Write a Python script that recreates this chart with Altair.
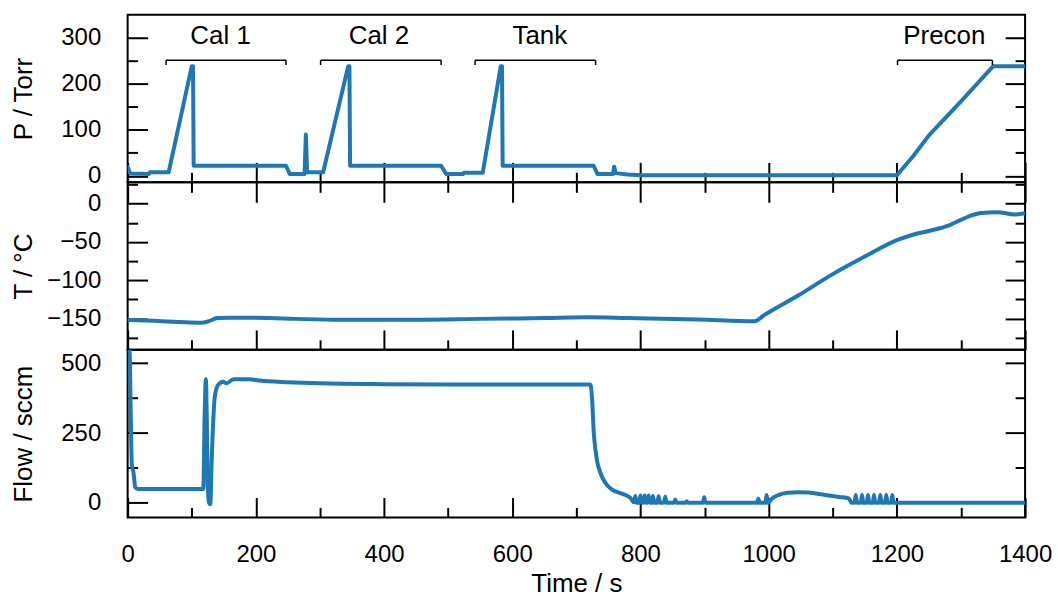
import altair as alt
import pandas as pd

# ---------------- data ----------------
# Pressure (Torr) vs time (s)
time_p = [0, 4, 33, 35, 64, 100, 102, 103, 247, 253, 276, 278, 280, 305,
          344, 346, 347, 489, 497, 523, 525, 554, 582, 584, 585, 727, 733,
          757, 759, 761, 780, 800, 1200, 1225, 1250, 1300, 1350, 1400]
pressure = [20, 5, 4, 8, 8, 238, 238, 22, 22, 4, 4, 90, 8, 8,
            238, 238, 22, 22, 4, 4, 7, 7, 238, 238, 22, 22, 4,
            4, 20, 6, 3, 1.5, 1.5, 42, 88, 162, 238, 238]

# Temperature (deg C) vs time (s)
time_t = [0, 40, 80, 115, 125, 140, 160, 220, 260, 320, 450, 550, 650, 720,
          780, 890, 978, 994, 1046, 1098, 1150, 1202, 1225, 1253, 1279, 1305,
          1331, 1357, 1383, 1400]
temperature = [-152, -153, -154.5, -155.5, -154, -149.5, -149, -149.2, -150.5,
               -151.5, -151.5, -150.5, -149.5, -148.5, -149.5, -151.3, -153.5,
               -145, -120, -93, -69, -47, -40.5, -35, -29, -19, -12, -11,
               -14, -12.5]

# Flow (sccm) vs time (s)
time_f = [0, 3, 5, 6.5, 9, 12, 16, 118, 120, 122, 123.5, 125, 127, 129, 131,
          136, 141, 149, 154, 160, 165, 190, 206, 250, 300, 400, 500, 600,
          722, 724.6, 727.2, 729.8, 732.4, 737.6, 745.4, 755.7, 771.2, 784.3,
          790,
          792, 794, 798, 800, 802, 804.5, 806.6, 808.7, 810.7, 812.8, 814.9,
          817.4, 819.5, 821.6, 826.2, 828.3, 830.4, 836.6, 838.7, 840.8,
          852.3, 854.3, 856.3, 870.5, 872.3, 874.1, 897.4, 899.4, 901.4,
          981.9, 983.9, 985.9, 994.8, 996.8, 998.8,
          1005, 1015, 1030, 1045, 1062, 1088, 1110, 1125, 1129,
          1133.8, 1135.8, 1137.8, 1143.6, 1145.6, 1147.6, 1152.9, 1154.9,
          1156.9, 1162.3, 1164.3, 1166.3, 1172.1, 1174.1, 1176.1, 1181.4,
          1183.4, 1185.4, 1190.8, 1192.8, 1194.8, 1400]
flow = [565, 540, 300, 135, 110, 55, 50, 50, 300, 443, 300, 60, 0, -5, 143,
        381, 422, 434, 428, 436, 443, 443, 438, 432, 428, 425, 424, 424,
        424, 369, 250, 190, 149, 107, 71, 47.5, 33, 18,
        2,
        25, 0, 0, 26, 0, 0, 26, 0, 0, 26, 0,
        0, 25, 0, 0, 24, 0, 0, 22, 0,
        0, 12, 0, 0, 6, 0, 0, 20, 0,
        0, 15, 0, 0, 28, 0,
        15, 28, 36, 38, 37, 28, 21, 16, 0,
        0, 28, 0, 0, 28, 0, 0, 28,
        0, 0, 28, 0, 0, 28, 0, 0,
        28, 0, 0, 28, 0, 0]

# Bracket annotations in the pressure panel
bracket_labels = ["Cal 1", "Cal 2", "Tank", "Precon"]
bracket_start = [60, 301, 542, 1201]
bracket_end = [247, 489, 730, 1349]
label_time = [145, 392, 643, 1274]

# Tick values
x_major = [0, 200, 400, 600, 800, 1000, 1200, 1400]
x_minor = [100, 300, 500, 700, 900, 1100, 1300]
p_major = [0, 100, 200, 300]
p_minor = [50, 150, 250]
t_major = [-150, -100, -50, 0]
t_minor = [-175, -125, -75, -25, 25]
f_major = [0, 250, 500]
f_minor = [125, 375]

# ---------------- chart ----------------
FONT = "Liberation Sans"
BLUE = "#1f77b4"
W, H = 900, 168
MAJ, MIN = 20, 10

xs = alt.Scale(domain=[0, 1400], nice=False, zero=False)


def tick_axis(values, size, orient, **kw):
    return alt.Axis(values=values, tickSize=size, offset=-size, orient=orient,
                    domain=False, grid=False, tickColor="black", tickWidth=2,
                    labelFont=FONT, labelFontSize=24, labelColor="black",
                    titleFont=FONT, titleFontSize=26, titleFontWeight="normal",
                    titleColor="black", **kw)


def panel(df, ycol, ydom, ymaj, ymin, ytitle, xmode, interp, extra=None):
    ys = alt.Scale(domain=ydom, nice=False, zero=False)
    base = alt.Chart(df)

    if xmode == "bottom":
        xa1 = tick_axis(x_major, MAJ, "bottom", labels=True, format="d",
                        labelFlush=False, labelOverlap=False, labelPadding=44,
                        labelBaseline="alphabetic", title="Time / s",
                        titleY=94, titleBaseline="alphabetic")
    else:
        xa1 = tick_axis(x_major, MAJ, "bottom", labels=False, title=None)

    ya1 = tick_axis(ymaj, MAJ, "left", labels=True, format="d",
                    labelPadding=27, labelOverlap=False, labelFlush=False,
                    title=ytitle, titleX=-124, titleBaseline="middle")

    l1 = base.mark_line(color=BLUE, strokeWidth=4, strokeJoin="round",
                        strokeCap="round", clip=True,
                        interpolate=interp).encode(
        x=alt.X("t:Q", scale=xs, axis=xa1),
        y=alt.Y(f"{ycol}:Q", scale=ys, axis=ya1),
        order="i:Q",
    )
    l2 = base.mark_line(strokeOpacity=0, clip=True).encode(
        x=alt.X("t:Q", scale=xs,
                axis=tick_axis(x_minor, MIN, "bottom", labels=False, title=None)),
        y=alt.Y(f"{ycol}:Q", scale=ys,
                axis=tick_axis(ymin, MIN, "left", labels=False, title=None)),
        order="i:Q",
    )
    if xmode == "both":
        x3 = alt.X("t:Q", scale=xs,
                   axis=tick_axis(x_major, MAJ, "top", labels=False, title=None))
        x4 = alt.X("t:Q", scale=xs,
                   axis=tick_axis(x_minor, MIN, "top", labels=False, title=None))
    else:
        x3 = alt.X("t:Q", scale=xs, axis=None)
        x4 = alt.X("t:Q", scale=xs, axis=None)
    l3 = base.mark_line(strokeOpacity=0, clip=True).encode(
        x=x3,
        y=alt.Y(f"{ycol}:Q", scale=ys,
                axis=tick_axis(ymaj, MAJ, "right", labels=False, title=None)),
        order="i:Q",
    )
    l4 = base.mark_line(strokeOpacity=0, clip=True).encode(
        x=x4,
        y=alt.Y(f"{ycol}:Q", scale=ys,
                axis=tick_axis(ymin, MIN, "right", labels=False, title=None)),
        order="i:Q",
    )
    layers = [l1, l2, l3, l4]
    if extra is not None:
        layers += extra(ys)
    return alt.layer(*layers).resolve_axis(x="independent", y="independent") \
        .properties(width=W, height=H)


def brackets(ys):
    br = pd.DataFrame({"label": bracket_labels, "start": bracket_start,
                       "end": bracket_end, "lt": label_time})
    b = alt.Chart(br)
    top_y = alt.YDatum(251, scale=ys, axis=None)
    hline = b.mark_rule(color="black", strokeWidth=1.5).encode(
        x=alt.X("start:Q", scale=xs, axis=None), x2="end:Q", y=top_y)
    lt = b.mark_rule(color="black", strokeWidth=1.5).encode(
        x=alt.X("start:Q", scale=xs, axis=None), y=top_y,
        y2=alt.Y2Datum(241))
    rt = b.mark_rule(color="black", strokeWidth=1.5).encode(
        x=alt.X("end:Q", scale=xs, axis=None), y=top_y,
        y2=alt.Y2Datum(241))
    txt = b.mark_text(font=FONT, fontSize=26, color="black",
                      baseline="middle", align="center").encode(
        x=alt.X("lt:Q", scale=xs, axis=None),
        y=alt.YDatum(303, scale=ys, axis=None),
        text="label:N")
    return [hline, lt, rt, txt]


df_p = pd.DataFrame({"t": time_p, "v": pressure, "i": range(len(time_p))})
df_t = pd.DataFrame({"t": time_t, "v": temperature, "i": range(len(time_t))})
df_f = pd.DataFrame({"t": time_f, "v": flow, "i": range(len(time_f))})

top = panel(df_p, "v", [-14, 350], p_major, p_minor, "P / Torr", "none",
            "linear", extra=brackets)
mid = panel(df_t, "v", [-191, 28], t_major, t_minor, "T / °C", "both",
            "monotone")
bot = panel(df_f, "v", [-52, 548], f_major, f_minor, "Flow / sccm", "bottom",
            "monotone")

chart = alt.vconcat(top, mid, bot, spacing=0, bounds="flush").properties(
    padding={"left": 10, "top": 13, "right": 5, "bottom": 2},
    background="white",
).configure_view(
    stroke="black", strokeWidth=2
)

chart.save("out.html", embed_options={"renderer": "svg", "actions": False})
